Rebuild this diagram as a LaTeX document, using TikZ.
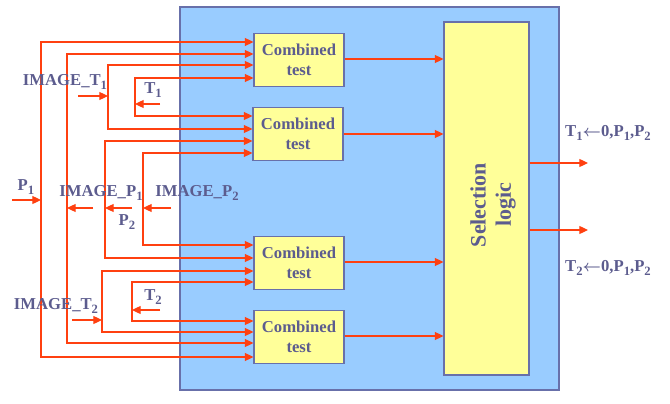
\documentclass[tikz,border=0pt]{standalone}
\usepackage{fontspec}
\setmainfont{Liberation Serif}
\usetikzlibrary{arrows.meta}

\definecolor{sigred}{RGB}{255,64,16}
\definecolor{txtslate}{RGB}{92,92,142}
\definecolor{panelblue}{RGB}{153,204,255}
\definecolor{boxyellow}{RGB}{255,255,153}
\definecolor{edgeblue}{RGB}{104,112,170}

\newcommand{\lowsub}[1]{\raisebox{-0.5ex}{\fontsize{9.5}{9.5}\selectfont #1}}

\tikzset{
  sig/.style={draw=sigred, line width=0.9pt, -{Triangle[length=6.5pt,width=6pt]}},
  ctbox/.style={draw=edgeblue, fill=boxyellow, line width=0.8pt, minimum width=67.5pt, minimum height=40pt,
    align=center, text=txtslate, font=\bfseries\fontsize{12.5}{15}\selectfont},
  lbl/.style={text=txtslate, inner sep=0pt, font=\bfseries\fontsize{12.5}{15}\selectfont}
}

\begin{document}
\begin{tikzpicture}[x=0.75pt, y=-0.75pt]
    \useasboundingbox (0,0) rectangle (670,403);

    % panneau bleu
    \draw[edgeblue, fill=panelblue, line width=0.8pt] (180,7) rectangle (559,390);

    % logique de selection
    \node[draw=edgeblue, fill=boxyellow, line width=0.8pt, minimum width=63.75pt, minimum height=264.75pt,
          inner sep=0pt] (sel) at (486.5,198.5) {};
    \node[rotate=90, align=center, text=txtslate, font=\bfseries\fontsize{16.5}{19}\selectfont]
          (seltxt) at (493,205) {Selection\\logic};

    % tests combines
    \node[ctbox] (ct1) at (299,60)  {Combined\\test};
    \node[ctbox] (ct2) at (298,134) {Combined\\test};
    \node[ctbox] (ct3) at (299,263) {Combined\\test};
    \node[ctbox] (ct4) at (299,337) {Combined\\test};

    % sorties vers la selection
    \foreach \c/\yy in {ct1/59, ct2/134, ct3/262, ct4/336}
        \draw[sig] (\c.east |- 0,\yy) -- (sel.west |- 0,\yy);

    % sorties de la selection
    \coordinate (out1) at (588,163);
    \coordinate (out2) at (588,230);
    \draw[sig] (sel.east |- out1) -- (out1);
    \draw[sig] (sel.east |- out2) -- (out2);
    \node[lbl] (o1lbl) at (608,133) {T\lowsub{1}{\boldmath$\leftarrow$}0,P\lowsub{1},P\lowsub{2}};
    \node[lbl] (o2lbl) at (608,268) {T\lowsub{2}{\boldmath$\leftarrow$}0,P\lowsub{1},P\lowsub{2}};

    % bus d'entree : x / y haut / bloc haut / y bas / bloc bas
    \foreach \bx/\yt/\ta/\yb/\tb in {41/42/ct1/357/ct4, 67/54/ct1/343/ct4,
            108/65/ct1/129/ct2, 135/78/ct1/116/ct2,
            105/141/ct2/258/ct3, 143/153/ct2/245/ct3,
            102/271/ct3/332/ct4, 132/282/ct3/321/ct4}
        \draw[sig, {Triangle[length=6.5pt,width=6pt]}-{Triangle[length=6.5pt,width=6pt]}]
            (\ta.west |- 0,\yt) -- (\bx,\yt) -- (\bx,\yb) -- (\tb.west |- 0,\yb);

    % entrees externes
    \coordinate (p1src) at (12,200);   \coordinate (p1bus) at (41,200);
    \coordinate (ip1src) at (93,208);  \coordinate (ip1bus) at (67,208);
    \coordinate (it1src) at (78,96);   \coordinate (it1bus) at (108,96);
    \coordinate (t1src) at (160,104);  \coordinate (t1bus) at (135,104);
    \coordinate (p2src) at (132,208);  \coordinate (p2bus) at (105,208);
    \coordinate (ip2src) at (171,208); \coordinate (ip2bus) at (143,208);
    \coordinate (it2src) at (72,320);  \coordinate (it2bus) at (102,320);
    \coordinate (t2src) at (160,310);  \coordinate (t2bus) at (132,310);
    \foreach \s in {p1, ip1, it1, t1, p2, ip2, it2, t2}
        \draw[sig] (\s src) -- (\s bus);

    % etiquettes
    \node[lbl] (p1lbl)  at (26,187)  {P\lowsub{1}};
    \node[lbl] (it1lbl) at (65,82)   {IMAGE\_T\lowsub{1}};
    \node[lbl] (t1lbl)  at (153,90)  {T\lowsub{1}};
    \node[lbl] (ip1lbl) at (101,193) {IMAGE\_P\lowsub{1}};
    \node[lbl] (ip2lbl) at (197,193) {IMAGE\_P\lowsub{2}};
    \node[lbl] (p2lbl)  at (127,222) {P\lowsub{2}};
    \node[lbl] (it2lbl) at (56,306)  {IMAGE\_T\lowsub{2}};
    \node[lbl] (t2lbl)  at (153,297) {T\lowsub{2}};
\end{tikzpicture}
\end{document}
